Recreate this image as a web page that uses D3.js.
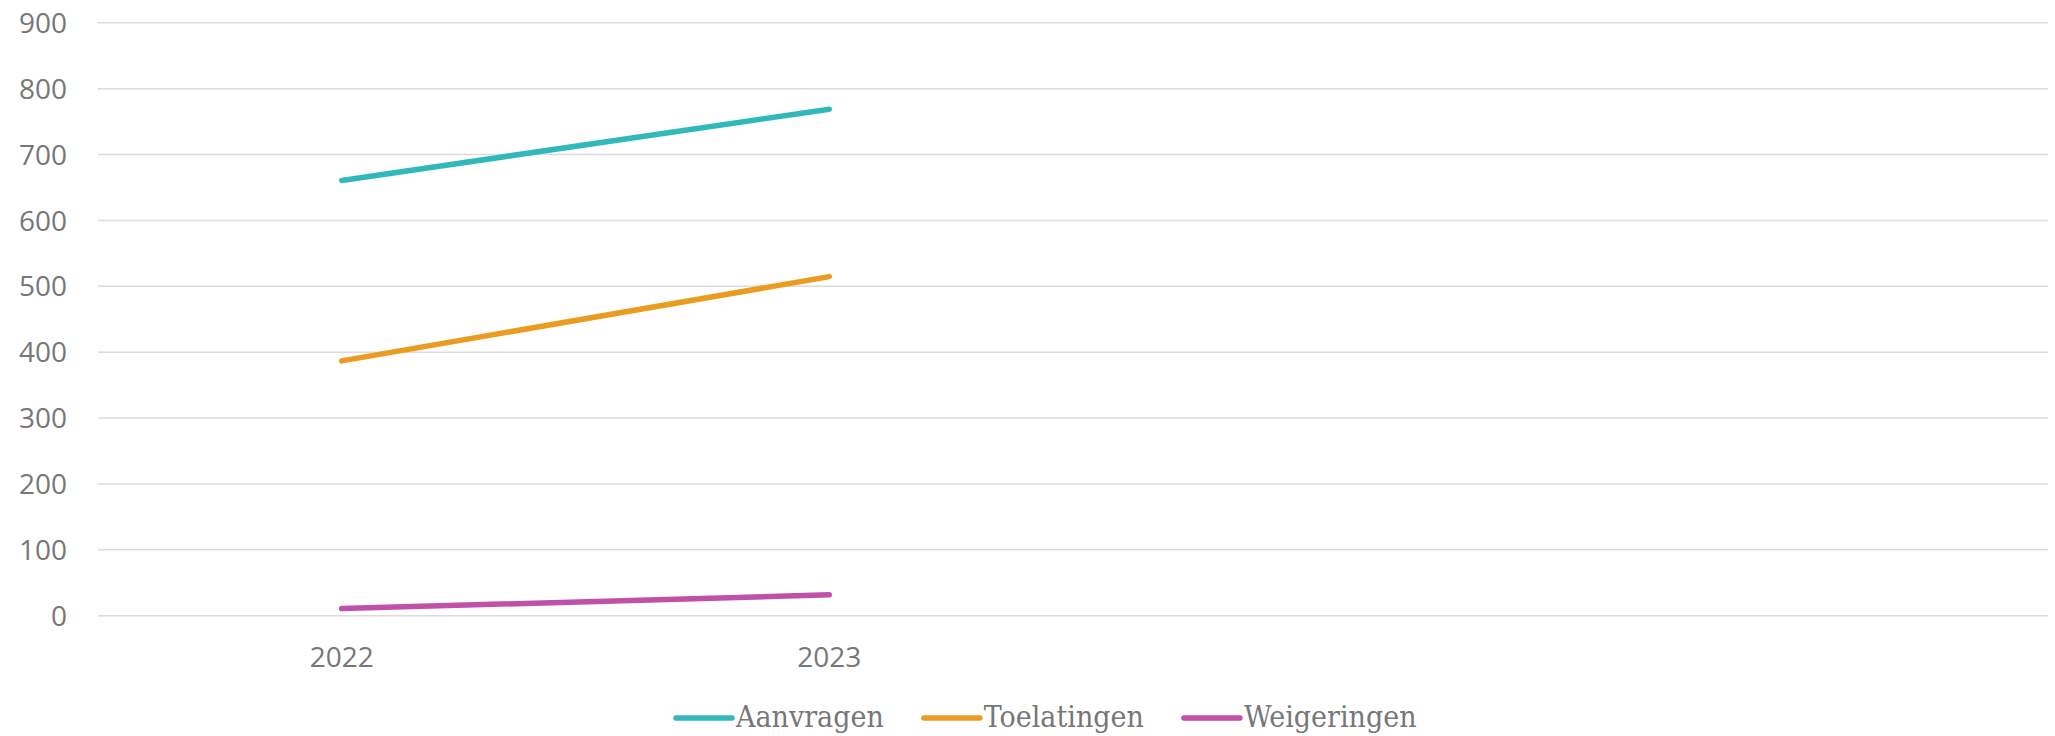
<!DOCTYPE html>
<html>
<head>
<meta charset="utf-8">
<script src="https://cdn.jsdelivr.net/npm/d3@7"></script>
<style>
  body { margin: 0; background: #fff; }
  svg { display: block; }
  .tick text { font-family: "Open Sans", sans-serif; font-size: 28px; fill: #777; }
  .legend text { font-family: "DejaVu Serif Condensed", "DejaVu Serif", serif; font-stretch: condensed; font-size: 30px; fill: #777; }
</style>
</head>
<body>
<svg id="chart"></svg>
<script>
// chart data
var years = ["2022", "2023", "", " "];
var aanvragen = [660, 768];
var toelatingen = [386, 514];
var weigeringen = [10, 31];
var yTicks = [0, 100, 200, 300, 400, 500, 600, 700, 800, 900];

var series = [
    { name: "Aanvragen", values: aanvragen, color: "#31b8bb" },
    { name: "Toelatingen", values: toelatingen, color: "#e99c20" },
    { name: "Weigeringen", values: weigeringen, color: "#c150a8" }
];

var width = 2055;
var height = 736;
var plotLeft = 98, plotRight = 2048, plotTop = 22.3, plotBottom = 615.2;

var svg = d3.select("#chart")
    .attr("width", width)
    .attr("height", height);

var x = d3.scaleBand()
    .domain(years)
    .range([plotLeft, plotRight])
    .padding(0);

var y = d3.scaleLinear()
    .domain([0, 900])
    .range([plotBottom, plotTop]);

// gridlines + y labels
var yAxis = svg.append("g")
    .attr("transform", "translate(" + plotLeft + ",0)")
    .call(d3.axisLeft(y).tickValues(yTicks).tickSize(-(plotRight - plotLeft)).tickPadding(31));
yAxis.select(".domain").remove();
yAxis.selectAll(".tick line").attr("stroke", "#dcdcdc").attr("stroke-width", 1.6);
yAxis.selectAll(".tick text").attr("dy", "0.36em");

// x labels
var xAxis = svg.append("g")
    .attr("transform", "translate(0," + plotBottom + ")")
    .call(d3.axisBottom(x).tickSize(0).tickPadding(32));
xAxis.select(".domain").remove();
xAxis.selectAll(".tick text").attr("dy", "0.71em");

var line = d3.line()
    .x((d, i) => x(years[i]) + x.bandwidth() / 2)
    .y(d => y(d));

svg.selectAll(".series")
    .data(series)
    .enter()
    .append("path")
    .attr("class", "series")
    .attr("d", d => line(d.values))
    .attr("fill", "none")
    .attr("stroke", d => d.color)
    .attr("stroke-width", 5.5)
    .attr("stroke-linecap", "round");

// legend
var legend = svg.append("g").attr("class", "legend");
var lx = 676, ly = 718;
series.forEach(s => {
    var item = legend.append("g");
    item.append("line")
        .attr("x1", lx).attr("x2", lx + 56)
        .attr("y1", ly).attr("y2", ly)
        .attr("stroke", s.color)
        .attr("stroke-width", 5.5)
        .attr("stroke-linecap", "round");
    var t = item.append("text")
        .attr("x", lx + 60)
        .attr("y", ly + 9)
        .text(s.name);
    lx += 60 + t.node().getComputedTextLength() + 40;
});
</script>
</body>
</html>
